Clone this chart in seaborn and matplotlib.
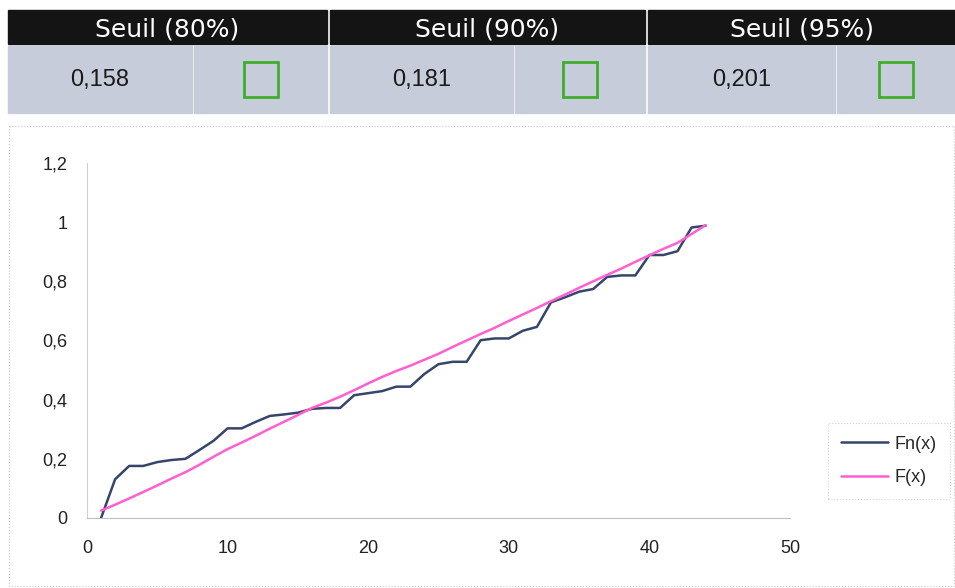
import numpy as np
import pandas as pd
import seaborn as sb
import matplotlib.pyplot as plt
from matplotlib.patches import Rectangle

# seuils du test (table en haut)
seuils = ["Seuil (80%)", "Seuil (90%)", "Seuil (95%)"]
valeurs_seuil = ["0,158", "0,181", "0,201"]

# fonction de repartition empirique et theorique
x = list(range(1, 45))
fn = [0.0, 0.131, 0.176, 0.176, 0.189, 0.196, 0.2, 0.23, 0.261, 0.303,
      0.303, 0.325, 0.345, 0.35, 0.356, 0.369, 0.372, 0.372, 0.415, 0.422,
      0.429, 0.444, 0.444, 0.487, 0.52, 0.528, 0.528, 0.601, 0.607, 0.607,
      0.633, 0.646, 0.729, 0.746, 0.765, 0.774, 0.815, 0.82, 0.82, 0.889,
      0.889, 0.902, 0.982, 0.988]
f = [0.025, 0.045, 0.066, 0.088, 0.11, 0.133, 0.155, 0.18, 0.207, 0.233,
     0.255, 0.278, 0.302, 0.325, 0.348, 0.372, 0.39, 0.41, 0.432, 0.455,
     0.477, 0.497, 0.515, 0.535, 0.555, 0.578, 0.6, 0.622, 0.643, 0.666,
     0.688, 0.71, 0.733, 0.755, 0.778, 0.8, 0.822, 0.843, 0.866, 0.888,
     0.91, 0.93, 0.96, 0.99]

sb.set_style("white")
plt.rcParams["font.family"] = ["Liberation Sans", "DejaVu Sans"]

W, H = 955, 588
fig = plt.figure(figsize=(W / 100, H / 100), dpi=100)

# couche de fond en pixels pour la table
bg = fig.add_axes([0, 0, 1, 1])
bg.set_xlim(0, W)
bg.set_ylim(H, 0)
bg.axis("off")

header_cols = [(8, 327), (330, 645), (648, 955)]
value_split = [192, 513, 835]
for i, (x0, x1) in enumerate(header_cols):
    bg.add_patch(Rectangle((x0, 10), x1 - x0, 34, color="#141414"))
    bg.text((x0 + x1) / 2, 29, seuils[i], color="white", fontsize=18,
            ha="center", va="center", family="DejaVu Sans")
    s = value_split[i]
    bg.add_patch(Rectangle((x0, 46), s - x0, 67, color="#c6ccd9"))
    bg.add_patch(Rectangle((s + 2, 46), x1 - s - 2, 67, color="#c6ccd9"))
    bg.text((x0 + s) / 2, 80, valeurs_seuil[i], color="#1a1a1a", fontsize=17,
            ha="center", va="center", family="Liberation Sans")
    cx = (s + 2 + x1) / 2
    bg.add_patch(Rectangle((cx - 17, 62), 34, 35, fill=False,
                           edgecolor="#3fae2a", linewidth=2))

# cadre pointille de la zone graphique
bg.add_patch(Rectangle((9, 126), 945, 460, fill=False, edgecolor="#c8c8c8",
                       linewidth=0.8, linestyle=":"))

df = pd.DataFrame({"x": x + x, "y": fn + f,
                   "serie": ["Fn(x)"] * len(x) + ["F(x)"] * len(x)})

ax = fig.add_axes([87 / W, 1 - 518 / H, (790 - 87) / W, (518 - 163) / H])
ax.set_facecolor("none")
sb.lineplot(data=df, x="x", y="y", hue="serie",
            palette={"Fn(x)": "#36456b", "F(x)": "#ff5fcf"},
            linewidth=1.8, ax=ax, legend=True)

ax.set_xlim(0, 50)
ax.set_ylim(0, 1.2)
ax.set_xticks([0, 10, 20, 30, 40, 50])
ax.set_yticks([0, 0.2, 0.4, 0.6, 0.8, 1.0, 1.2])
ax.set_yticklabels(["0", "0,2", "0,4", "0,6", "0,8", "1", "1,2"])
ax.set_xlabel("")
ax.set_ylabel("")
for side in ["top", "right"]:
    ax.spines[side].set_visible(False)
ax.spines["left"].set_color("#d0d0d0")
ax.spines["bottom"].set_color("#c0c0c0")
ax.tick_params(axis="both", which="both", direction="out", length=4,
               color="#c0c0c0", labelsize=13, labelcolor="#222222")
ax.tick_params(axis="y", pad=10)
ax.tick_params(axis="x", pad=12)

leg = ax.legend(loc="upper left", bbox_to_anchor=(828 / W, 1 - 423 / H),
                bbox_transform=fig.transFigure, frameon=True, fontsize=13,
                handlelength=2.6, handletextpad=0.4, fancybox=False,
                borderpad=0.7, labelspacing=0.9, borderaxespad=0)
leg.get_frame().set_edgecolor("#c8c8c8")
leg.get_frame().set_linestyle(":")
leg.get_frame().set_linewidth(0.8)

fig.savefig("out.png", dpi=100)
